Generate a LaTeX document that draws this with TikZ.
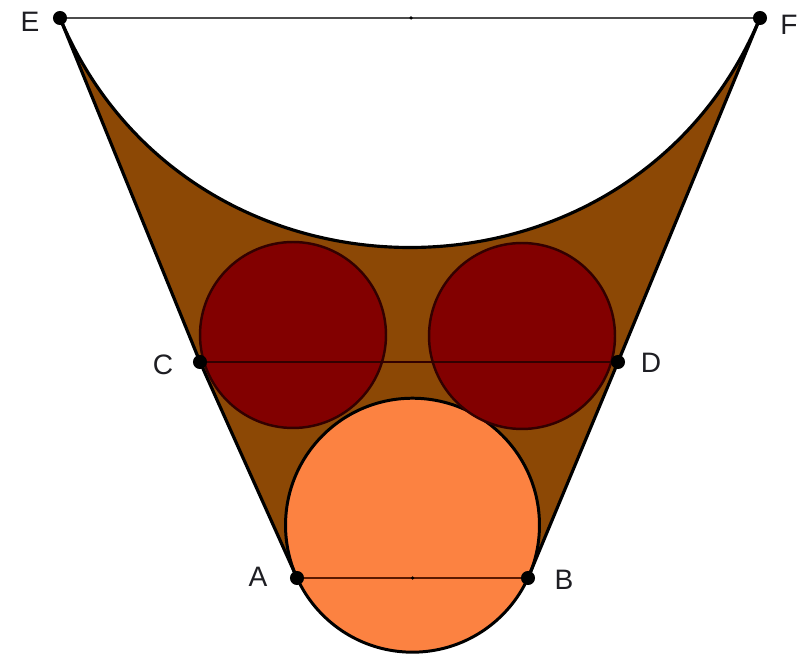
\documentclass[tikz,border=0pt]{standalone}
\usepackage{fontspec}
\setmainfont{Liberation Sans}
\definecolor{brownfill}{RGB}{140,72,5}
\definecolor{darkred}{RGB}{130,0,0}
\definecolor{orangefill}{RGB}{252,130,65}
\definecolor{redline}{RGB}{50,0,0}
\definecolor{abline}{RGB}{90,25,0}
\definecolor{labelcol}{RGB}{30,30,35}
\tikzset{
  outline/.style={draw=black, line width=1.8pt, line join=round},
  pt/.style={circle, fill=black, inner sep=0pt, minimum size=8pt},
  tick/.style={circle, fill=black, inner sep=0pt, minimum size=2pt},
  lbl/.style={text=labelcol, font=\fontsize{16}{19}\selectfont, inner sep=0pt}
}
\begin{document}
\begin{tikzpicture}[x=0.02cm,y=0.02cm]
\useasboundingbox (0,0) rectangle (800,662);
% key points
\coordinate (E) at (60,644);
\coordinate (F) at (760,644);
\coordinate (C) at (200,300);
\coordinate (D) at (618,300);
\coordinate (A) at (297,84);
\coordinate (B) at (528,84);
\coordinate (M) at (411,644);
\coordinate (N) at (412.5,84);
\coordinate (O) at (412.5,136.8);
\coordinate (L) at (293,327);
\coordinate (R) at (522,326);
\coordinate (c1) at (188,338);
\coordinate (c2) at (632,338);
% brown region
\fill[brownfill] (E) -- (C) -- (A) arc[start angle=204.57, end angle=-24.57, radius=2.54cm]
  -- (D) -- (F) .. controls (c2) and (c1) .. (E) -- cycle;
% orange circle
\draw[fill=orangefill, draw=black, line width=1.7pt] (O) circle[radius=2.54cm];
% dark red circles
\draw[fill=darkred, draw=redline, line width=1.4pt] (L) circle[radius=1.86cm];
\draw[fill=darkred, draw=redline, line width=1.4pt] (R) circle[radius=1.86cm];
% upper curve and side lines
\draw[outline] (E) .. controls (c1) and (c2) .. (F);
\draw[outline] (E) -- (C) -- (A);
\draw[outline] (F) -- (D) -- (B);
% chords
\draw[draw=black!70, line width=1.1pt] (E) -- (F);
\draw[draw=redline, line width=1.4pt] (C) -- (D);
\draw[draw=abline, line width=1.1pt] (A) -- (B);
% points
\foreach \p in {E,F,C,D,A,B} \node[pt] at (\p) {};
\node[tick] at (M) {};
\node[tick] at (N) {};
% labels
\node[lbl] (lE) at (30,640) {E};
\node[lbl] (lF) at (789,637) {F};
\node[lbl] (lC) at (163,297) {C};
\node[lbl] (lD) at (651,299) {D};
\node[lbl] (lA) at (258,85) {A};
\node[lbl] (lB) at (564,82) {B};
\end{tikzpicture}
\end{document}
